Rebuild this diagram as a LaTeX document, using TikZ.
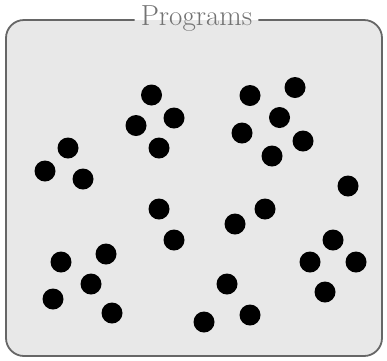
\documentclass[tikz,border=0pt]{standalone}
\usepackage{fontspec}
\begin{document}
\begin{tikzpicture}[x=1pt,y=-1pt,
  dot/.style={circle,fill=black,inner sep=0pt,minimum size=21pt},
  framefill/.style={fill=black!9,rounded corners=18pt},
  frameline/.style={draw=black!60,line width=1.8pt,rounded corners=18pt},
  ttl/.style={text=black!55,inner xsep=6pt,inner ysep=1pt,font=\fontsize{29}{34}\selectfont}]
\useasboundingbox (0,0) rectangle (387,360);
\path[framefill] (6,20) rectangle (382,356);
\node[ttl] (title) at (196.5,19) {Programs};
\draw[frameline] (title.east |- 0,20) -- (382,20) -- (382,356) -- (6,356) -- (6,20) -- (title.west |- 0,20);
\foreach \n/\x/\y in {
 a/151.5/95, b/136/125.5, c/174/118, d/159/148,
 e/68/148, f/45/171, g/83/179,
 h/250/95.5, i/295/87.5, j/279.5/117.5, k/242/133, l/303/141, m/272/156,
 n/348/186,
 o/159/209, p/174/240, q/235/224, r/265/209,
 s/106/254, t/61/262, u/91/284, v/53/299, w/112/313,
 x/227/284, y/204/322, z/250/315,
 aa/333/240, ab/310/262, ac/356/262, ad/325/292}
 \node[dot] (\n) at (\x,\y) {};
\end{tikzpicture}
\end{document}
